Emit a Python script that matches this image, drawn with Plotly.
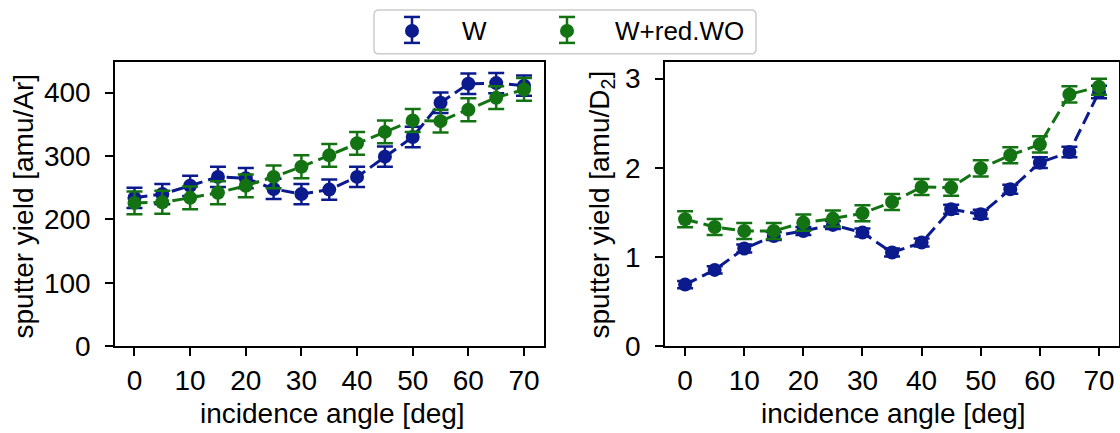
import plotly.graph_objects as go

# ---------------- data ----------------
angles = [0, 5, 10, 15, 20, 25, 30, 35, 40, 45, 50, 55, 60, 65, 70]

ar_W = [234, 240, 253, 267, 265, 248, 240, 247, 267, 299, 330, 384, 414, 415, 411]
ar_W_err = [16, 16, 16, 16, 16, 16, 16, 16, 16, 16, 16, 16, 16, 16, 16]
ar_WO = [226, 227, 234, 242, 253, 267, 283, 301, 320, 338, 356, 355, 373, 392, 405]
ar_WO_err = [18, 18, 18, 18, 18, 18, 18, 18, 18, 18, 18, 18, 18, 18, 18]

d2_W = [0.69, 0.855, 1.094, 1.235, 1.291, 1.359, 1.273, 1.049, 1.161, 1.534, 1.478, 1.758, 2.057, 2.176, 2.848]
d2_W_err = [0.04, 0.04, 0.045, 0.045, 0.045, 0.045, 0.045, 0.045, 0.045, 0.05, 0.05, 0.05, 0.06, 0.06, 0.07]
d2_WO = [1.422, 1.336, 1.291, 1.291, 1.385, 1.43, 1.489, 1.616, 1.784, 1.777, 1.993, 2.139, 2.262, 2.822, 2.908]
d2_WO_err = [0.09, 0.09, 0.09, 0.09, 0.09, 0.09, 0.09, 0.09, 0.09, 0.09, 0.09, 0.09, 0.09, 0.09, 0.09]

series_names = ["W", "W+red.WO"]
x_ticks = [0, 10, 20, 30, 40, 50, 60, 70]
left_y_ticks = [0, 100, 200, 300, 400]
right_y_ticks = [0, 1, 2, 3]

# ---------------- style ----------------
W_PX, H_PX = 1120, 433
H_EFF = 418  # effective vertical pixel scale observed in the rendering
BLUE = "#0b1a8c"
GREEN = "#137313"
FONT = "Liberation Sans, Arial, sans-serif"
FS = 28
FS_LEG = 26
MS = 14


def px(x):
    return x / W_PX


def py(y):
    return 1 - y / H_EFF


fig = go.Figure()


def add_series(x, y, err, color, xa, ya):
    fig.add_trace(go.Scatter(
        x=x, y=y, mode="lines+markers",
        line=dict(color=color, width=3, dash="13px,6px"),
        marker=dict(color=color, size=MS, line=dict(width=0)),
        error_y=dict(type="data", array=err, visible=True, color=color,
                     thickness=2.5, width=8),
        xaxis=xa, yaxis=ya, showlegend=False,
    ))


add_series(angles, ar_W, ar_W_err, BLUE, "x", "y")
add_series(angles, ar_WO, ar_WO_err, GREEN, "x", "y")
add_series(angles, d2_W, d2_W_err, BLUE, "x2", "y2")
add_series(angles, d2_WO, d2_WO_err, GREEN, "x2", "y2")

top, bottom = 61.7, 347
common_axis = dict(
    showline=True, linecolor="black", linewidth=1.6, mirror=True,
    ticks="outside", ticklen=8, tickwidth=1.6, tickcolor="black",
    showgrid=False, zeroline=False,
    tickfont=dict(family=FONT, size=FS, color="black"),
)

fig.update_layout(
    width=W_PX, height=H_PX, autosize=False,
    margin=dict(l=0, r=0, t=0, b=0),
    paper_bgcolor="white", plot_bgcolor="white",
    xaxis=dict(domain=[px(115), px(543.5)], range=[-3.5, 73.5],
               tickvals=x_ticks, anchor="y", **common_axis),
    yaxis=dict(domain=[py(bottom), py(top)], range=[0, 449],
               tickvals=left_y_ticks, anchor="x", ticklabelstandoff=9, **common_axis),
    xaxis2=dict(domain=[px(665), px(1118.5)], range=[-3.4, 73.3],
                tickvals=x_ticks, anchor="y2", **common_axis),
    yaxis2=dict(domain=[py(bottom), py(top)], range=[0, 3.19],
                tickvals=right_y_ticks, anchor="x2", ticklabelstandoff=9, **common_axis),
)

# axis titles
tf = dict(family=FONT, size=FS, color="black")
fig.add_annotation(text="incidence angle [deg]", x=px(332), y=py(414), xref="paper", yref="paper",
                   showarrow=False, font=tf, xanchor="center", yanchor="middle")
fig.add_annotation(text="incidence angle [deg]", x=px(893), y=py(414), xref="paper", yref="paper",
                   showarrow=False, font=tf, xanchor="center", yanchor="middle")
fig.add_annotation(text="sputter yield [amu/Ar]", x=px(24), y=py(207), xref="paper", yref="paper",
                   showarrow=False, font=tf, textangle=-90, xanchor="center", yanchor="middle")
fig.add_annotation(text="sputter yield [amu/D<sub>2</sub>]", x=px(602), y=py(205), xref="paper", yref="paper",
                   showarrow=False, font=tf, textangle=-90, xanchor="center", yanchor="middle")

# legend (drawn manually to show error-bar glyphs)
bx0, bx1, by0, by1, r = 374, 756, 10, 54, 5
path = (f"M {px(bx0 + r)},{py(by0)} L {px(bx1 - r)},{py(by0)} "
        f"Q {px(bx1)},{py(by0)} {px(bx1)},{py(by0 + r)} L {px(bx1)},{py(by1 - r)} "
        f"Q {px(bx1)},{py(by1)} {px(bx1 - r)},{py(by1)} L {px(bx0 + r)},{py(by1)} "
        f"Q {px(bx0)},{py(by1)} {px(bx0)},{py(by1 - r)} L {px(bx0)},{py(by0 + r)} "
        f"Q {px(bx0)},{py(by0)} {px(bx0 + r)},{py(by0)} Z")
fig.add_shape(type="path", path=path, xref="paper", yref="paper",
              line=dict(color="#cccccc", width=1.5), fillcolor="rgba(255,255,255,0.8)")

lf = dict(family=FONT, size=FS_LEG, color="black")
legend_entries = [(412, 460, BLUE), (567, 613, GREEN)]
for (cx, tx, col), name in zip(legend_entries, series_names):
    cy, e0, e1, hw = 31, 17, 43, 8
    fig.add_shape(type="line", xref="paper", yref="paper", x0=px(cx), x1=px(cx), y0=py(e0), y1=py(e1),
                  line=dict(color=col, width=2.5))
    for ey in (e0, e1):
        fig.add_shape(type="line", xref="paper", yref="paper", x0=px(cx - hw), x1=px(cx + hw),
                      y0=py(ey), y1=py(ey), line=dict(color=col, width=2.5))
    rr = MS / 2
    fig.add_shape(type="circle", xref="paper", yref="paper", x0=px(cx - rr), x1=px(cx + rr),
                  y0=py(cy - rr), y1=py(cy + rr), fillcolor=col, line=dict(width=0))
    fig.add_annotation(text=name, x=px(tx), y=py(cy), xref="paper", yref="paper", showarrow=False,
                       font=lf, xanchor="left", yanchor="middle")

fig.write_html("out.html", config={"responsive": False})
